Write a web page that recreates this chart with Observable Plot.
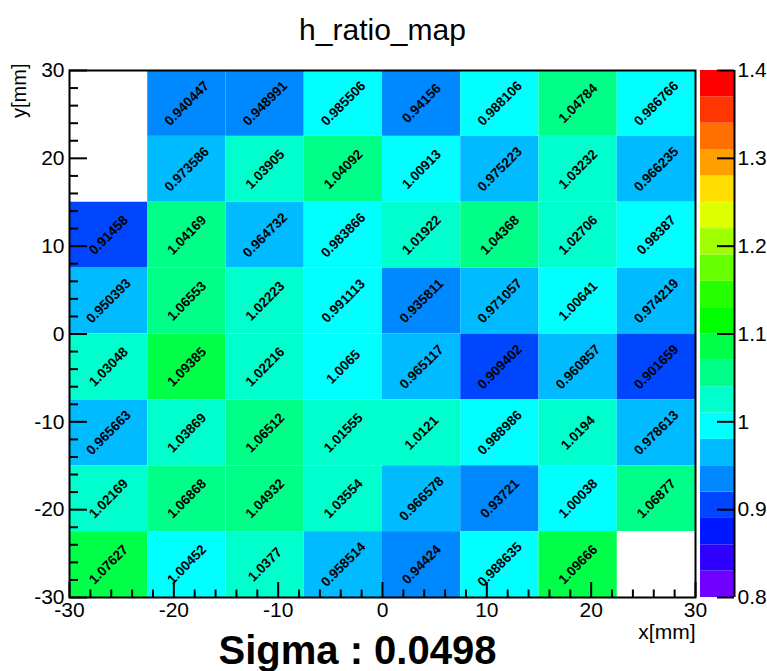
<!DOCTYPE html>
<html>
<head>
<meta charset="utf-8">
<script src="https://cdn.jsdelivr.net/npm/d3@7"></script>
<script src="https://cdn.jsdelivr.net/npm/@observablehq/plot@0.6"></script>
<style>
html, body { margin: 0; padding: 0; background: #fff; }
#chart { position: relative; width: 767px; height: 671px; overflow: hidden; }
#chart svg { position: absolute; left: 0; top: 0; }
</style>
</head>
<body>
<div id="chart"></div>
<script>
// ---- texts ----
const titleText = "h_ratio_map";
const captionText = "Sigma : 0.0498";
const xLabel = "x[mm]";
const yLabel = "y[mm]";

// ---- bins (edges, mm) ----
const xEdges = [-30, -22.5, -15, -7.5, 0, 7.5, 15, 22.5, 30];
const yEdges = [30, 22.5, 15, 7.5, 0, -7.5, -15, -22.5, -30]; // top row first

// ---- ratio values, one array per row, top row first (null = empty bin) ----
const row1 = [null, 0.940447, 0.948991, 0.985506, 0.94156, 0.988106, 1.04784, 0.986766];
const row2 = [null, 0.973586, 1.03905, 1.04092, 1.00913, 0.975223, 1.03232, 0.966235];
const row3 = [0.91458, 1.04169, 0.964732, 0.983866, 1.01922, 1.04368, 1.02706, 0.98387];
const row4 = [0.950393, 1.06553, 1.02223, 0.991113, 0.935811, 0.971057, 1.00641, 0.974219];
const row5 = [1.03048, 1.09385, 1.02216, 1.0065, 0.965117, 0.909402, 0.960857, 0.901659];
const row6 = [0.965663, 1.03869, 1.06512, 1.01555, 1.0121, 0.988986, 1.0194, 0.978613];
const row7 = [1.02169, 1.06868, 1.04932, 1.03554, 0.966578, 0.93721, 1.00038, 1.06877];
const row8 = [1.07627, 1.00452, 1.0377, 0.958514, 0.94424, 0.988635, 1.09666, null];
const ratioRows = [row1, row2, row3, row4, row5, row6, row7, row8];

// ---- ticks ----
const axisTicks = [-30, -20, -10, 0, 10, 20, 30];
const axisMinorTicks = [-28, -26, -24, -22, -18, -16, -14, -12, -8, -6, -4, -2, 2, 4, 6, 8, 12, 14, 16, 18, 22, 24, 26, 28];
const paletteTicks = [0.8, 0.9, 1, 1.1, 1.2, 1.3, 1.4];

// ---- palette (20 contour bands from 0.8 to 1.4) ----
const paletteMin = 0.8, paletteMax = 1.4;
const paletteThresholds = [0.83, 0.86, 0.89, 0.92, 0.95, 0.98, 1.01, 1.04, 1.07, 1.10,
                           1.13, 1.16, 1.19, 1.22, 1.25, 1.28, 1.31, 1.34, 1.37];
const paletteColors = ["#7000ff", "#3000ff", "#0018ff", "#0046ff", "#0088ff", "#00bbff",
                       "#00ffff", "#00ffcc", "#00ff88", "#00ff48", "#00ff00", "#26ff00",
                       "#66ff00", "#a0ff00", "#ddff00", "#ffdd00", "#ffa000", "#ff7000",
                       "#ff3600", "#ff0000"];

// ---- derived tables ----
const cells = [];
ratioRows.forEach((row, r) => {
  row.forEach((v, c) => {
    if (v == null) return;
    cells.push({
      x1: xEdges[c], x2: xEdges[c + 1],
      y1: yEdges[r + 1], y2: yEdges[r],
      xc: (xEdges[c] + xEdges[c + 1]) / 2,
      yc: (yEdges[r] + yEdges[r + 1]) / 2,
      v
    });
  });
});
const bandEdges = [paletteMin, ...paletteThresholds, paletteMax];
const bands = paletteColors.map((c, i) => ({lo: bandEdges[i], hi: bandEdges[i + 1], mid: (bandEdges[i] + bandEdges[i + 1]) / 2}));

const font = "'Liberation Sans', Arial, Helvetica, sans-serif";
const colorScale = {type: "threshold", domain: paletteThresholds, range: paletteColors};

const W = 767, H = 671;
const mTop = 70, mBottom = 74, mLeft = 69, mRight = 72;
const frameW = W - mLeft - mRight, frameH = H - mTop - mBottom;
const barLeft = 700, barRight = 33, barW = W - barLeft - barRight;
const tickColor = "black";

const main = Plot.plot({
  width: W, height: H,
  marginTop: mTop, marginBottom: mBottom, marginLeft: mLeft, marginRight: mRight,
  style: {fontFamily: font, background: "white", color: "black"},
  x: {domain: [-30, 30]},
  y: {domain: [-30, 30]},
  color: colorScale,
  marks: [
    Plot.rect(cells, {x1: "x1", x2: "x2", y1: "y1", y2: "y2", fill: "v"}),
    Plot.text(cells, {x: "xc", y: "yc", text: d => String(d.v), rotate: -45,
      fontSize: 13.5, fontWeight: "bold", fill: "black"}),
    // ticks drawn inside the frame
    Plot.tickY(axisTicks, {y: d => d, insetRight: frameW - 18, stroke: tickColor, strokeWidth: 2}),
    Plot.tickY(axisMinorTicks, {y: d => d, insetRight: frameW - 9, stroke: tickColor, strokeWidth: 2}),
    Plot.tickX(axisTicks, {x: d => d, insetTop: frameH - 15, stroke: tickColor, strokeWidth: 2}),
    Plot.tickX(axisMinorTicks, {x: d => d, insetTop: frameH - 7.5, stroke: tickColor, strokeWidth: 2}),
    Plot.axisX(axisTicks, {tickSize: 0, tickPadding: 5, fontSize: 21, tickFormat: d => String(d), label: null}),
    Plot.axisY(axisTicks, {tickSize: 0, tickPadding: 5, fontSize: 21, tickFormat: d => String(d), label: null}),
    Plot.frame({stroke: "black", strokeWidth: 2}),
    Plot.text([titleText], {frameAnchor: "top", dy: -31, lineAnchor: "bottom", fontSize: 30, fill: "black"}),
    Plot.text([captionText], {frameAnchor: "bottom", dx: -25, dy: 66, lineAnchor: "bottom",
      fontSize: 40, fontWeight: "bold", fill: "black"}),
    Plot.text([xLabel], {frameAnchor: "bottom-right", dy: 41, textAnchor: "end", lineAnchor: "bottom",
      fontSize: 21, fill: "black"}),
    Plot.text([yLabel], {frameAnchor: "top-left", dx: -44, dy: -7, rotate: -90, textAnchor: "end",
      lineAnchor: "bottom", fontSize: 20, fill: "black"})
  ]
});

const bar = Plot.plot({
  width: W, height: H,
  marginTop: mTop, marginBottom: mBottom, marginLeft: barLeft, marginRight: barRight,
  style: {fontFamily: font, background: "transparent", color: "black"},
  x: {domain: [0, 1], axis: null},
  y: {domain: [paletteMin, paletteMax]},
  color: colorScale,
  marks: [
    Plot.rect(bands, {x1: 0, x2: 1, y1: "lo", y2: "hi", fill: "mid"}),
    Plot.ruleX([1], {stroke: "black", strokeWidth: 2}),
    Plot.tickY(paletteTicks, {y: d => d, insetLeft: barW - 17, stroke: tickColor, strokeWidth: 2}),
    Plot.axisY(paletteTicks, {anchor: "right", tickSize: 0, tickPadding: 3, fontSize: 21,
      tickFormat: d => String(d), label: null})
  ]
});

const chart = document.getElementById("chart");
chart.appendChild(main);
chart.appendChild(bar);
</script>
</body>
</html>
